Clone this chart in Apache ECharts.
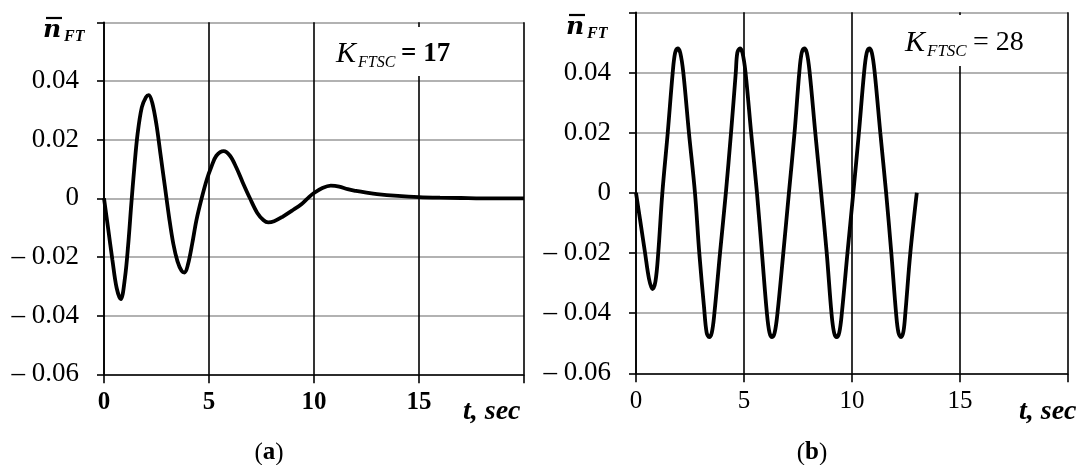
<!DOCTYPE html>
<html>
<head>
<meta charset="utf-8">
<script src="https://cdn.jsdelivr.net/npm/echarts@6/dist/echarts.min.js"></script>
<style>
html,body{margin:0;padding:0;background:#fff;}
#c{width:1088px;height:465px;}
</style>
</head>
<body>
<div id="c"></div>
<script>
// ---- data (a) K_FTSC = 17 ----
const tA = [0,0.2,0.4,0.6,0.8,1.0,1.15,1.3,1.45,1.6,1.8,2.0,2.13,2.3,2.5,2.7,2.9,3.1,3.3,3.5,3.7,3.84,4.0,4.2,4.4,4.65,4.9,5.1,5.35,5.7,6.0,6.3,6.6,6.95,7.3,7.6,7.82,8.1,8.5,9.0,9.4,9.7,10.0,10.4,10.8,11.2,11.6,12.0,12.5,13,14,15,16,17,18,19,20];
const nA = [0,-0.0105,-0.021,-0.0305,-0.0344,-0.027,-0.016,-0.002,0.011,0.022,0.031,0.0345,0.0352,0.0325,0.025,0.0145,0.004,-0.0065,-0.0155,-0.0215,-0.0248,-0.0253,-0.0225,-0.0155,-0.0075,0.0,0.0065,0.0105,0.0145,0.0161,0.0145,0.0105,0.0055,0.0,-0.005,-0.0075,-0.0082,-0.0078,-0.0063,-0.004,-0.002,0.0,0.0018,0.0035,0.0043,0.004,0.0031,0.0025,0.0019,0.0014,0.0008,0.0004,0.0002,0.0001,0,0,0];
// ---- data (b) K_FTSC = 28 ----
const tB = [0,0.2,0.42,0.6,0.76,0.9,1.03,1.22,1.47,1.70,1.81,1.93,2.05,2.19,2.45,2.73,2.93,3.15,3.27,3.39,3.51,3.63,3.89,4.16,4.40,4.62,4.69,4.81,4.93,5.07,5.33,5.60,5.83,6.06,6.18,6.30,6.42,6.55,6.82,7.08,7.34,7.56,7.67,7.79,7.91,8.04,8.30,8.57,8.83,9.05,9.17,9.29,9.41,9.53,9.79,10.06,10.32,10.56,10.68,10.80,10.92,11.05,11.31,11.58,11.82,12.04,12.15,12.27,12.38,12.47,12.70,13.0];
const nB = [0,-0.0095,-0.02,-0.0285,-0.032,-0.0295,-0.02,0,0.02,0.04,0.0465,0.048,0.0465,0.04,0.02,0,-0.02,-0.038,-0.0465,-0.048,-0.0465,-0.04,-0.02,0,0.02,0.04,0.0465,0.048,0.0465,0.04,0.02,0,-0.02,-0.04,-0.0465,-0.048,-0.0465,-0.04,-0.02,0,0.02,0.04,0.0465,0.048,0.0465,0.04,0.02,0,-0.02,-0.04,-0.0465,-0.048,-0.0465,-0.04,-0.02,0,0.02,0.04,0.0465,0.048,0.0465,0.04,0.02,0,-0.02,-0.04,-0.0465,-0.048,-0.0462,-0.04,-0.02,0];
// ---- tick labels ----
const yTickValues = [-0.06,-0.04,-0.02,0,0.02,0.04,0.06];
const yTickLabels = ['\u2013 0.06','\u2013 0.04','\u2013 0.02','0','0.02','0.04',''];
const xTickValues = [0,5,10,15,20];
const xTickLabels = ['0','5','10','15',''];
const kLabels = ['17','28'];
const captions = ['a','b'];

const SERIF = '"Liberation Serif", "DejaVu Serif", serif';
const WIDE = '"DejaVu Serif", serif';
function yFmt(v){ const i = yTickValues.findIndex(t=>Math.abs(t-v)<1e-6); return i>=0?yTickLabels[i]:''; }
function xFmt(v){ const i = xTickValues.findIndex(t=>Math.abs(t-v)<1e-6); return i>=0?xTickLabels[i]:''; }

function xAxisCfg(gi, bold){
  return {
    type:'value', gridIndex:gi, min:0, max:20, interval:5,
    axisLine:{onZero:false, lineStyle:{color:'#000', width:1.6}},
    axisTick:{show:true, length:9, lineStyle:{color:'#000', width:1.6}},
    axisLabel:{formatter:xFmt, margin:16, color:'#000', fontFamily:SERIF, fontSize:25, fontWeight: bold?'bold':'normal'},
    splitLine:{show:true, lineStyle:{color:'#000', width:1.6}}
  };
}
function yAxisCfg(gi){
  return {
    type:'value', gridIndex:gi, min:-0.06, max:0.06, interval:0.02,
    axisLine:{show:true, onZero:false, lineStyle:{color:'#000', width:1.6}},
    axisTick:{show:true, length:7, lineStyle:{color:'#000', width:1.6}},
    axisLabel:{formatter:yFmt, margin:25, color:'#000', fontFamily:SERIF, fontSize:27},
    splitLine:{show:true, lineStyle:{color:'#999', width:1.6}}
  };
}

const chart = echarts.init(document.getElementById('c'), null, {renderer:'canvas'});

function txt(x,y,text,font,align,z){
  return {type:'text', x:x, y:y, z:z||10, style:{text:text, font:font, fill:'#000', textAlign:align||'left', textVerticalAlign:'middle'}};
}

const graphics = [
  // white boxes behind K labels
  {type:'rect', z:1, shape:{x:334, y:27, width:118, height:49}, style:{fill:'#fff'}},
  {type:'rect', z:1, shape:{x:903, y:15, width:125, height:51}, style:{fill:'#fff'}},
  // K labels (a)
  txt(336,54,'K','italic 30px '+SERIF),
  txt(358,63,'FTSC','italic 16px '+SERIF),
  txt(401,54,'= '+kLabels[0],'bold 27px '+SERIF),
  // K labels (b)
  txt(905,43,'K','italic 30px '+SERIF),
  txt(927,52,'FTSC','italic 17px '+SERIF),
  txt(973,43,'= '+kLabels[1],'28px '+SERIF),
  // y-axis titles n-bar FT
  txt(43,30,'n','italic bold 25px '+WIDE),
  txt(64,37,'FT','italic bold 16px '+SERIF),
  {type:'line', z:10, shape:{x1:46,y1:18,x2:62,y2:18}, style:{stroke:'#000', lineWidth:2.2}},
  txt(566,27,'n','italic bold 25px '+WIDE),
  txt(587,34,'FT','italic bold 16px '+SERIF),
  {type:'line', z:10, shape:{x1:569,y1:15,x2:585,y2:15}, style:{stroke:'#000', lineWidth:2.2}},
  // x-axis titles
  txt(463,412,'t, sec','italic bold 28px '+SERIF),
  txt(1019,412,'t, sec','italic bold 28px '+SERIF),
  // captions
  {type:'text', x:269, y:453, z:10, style:{text:'({b|'+captions[0]+'})', font:'25px '+SERIF, fill:'#000', textAlign:'center', textVerticalAlign:'middle', rich:{b:{font:'bold 25px '+SERIF, fill:'#000'}}}},
  {type:'text', x:812, y:453, z:10, style:{text:'({b|'+captions[1]+'})', font:'25px '+SERIF, fill:'#000', textAlign:'center', textVerticalAlign:'middle', rich:{b:{font:'bold 25px '+SERIF, fill:'#000'}}}}
];

chart.setOption({
  animation:false,
  backgroundColor:'#fff',
  grid:[
    {left:104, top:22.3, width:420, height:352},
    {left:636, top:12.3, width:432, height:361}
  ],
  xAxis:[xAxisCfg(0,true), xAxisCfg(1,false)],
  yAxis:[yAxisCfg(0), yAxisCfg(1)],
  series:[
    {type:'line', xAxisIndex:0, yAxisIndex:0, data:tA.map((t,i)=>[t,nA[i]]), smooth:0.35, showSymbol:false, lineStyle:{color:'#000', width:3.8}, z:5},
    {type:'line', xAxisIndex:1, yAxisIndex:1, data:tB.map((t,i)=>[t,nB[i]]), smooth:0.35, showSymbol:false, lineStyle:{color:'#000', width:3.8}, z:5}
  ],
  graphic: graphics
});
</script>
</body>
</html>
